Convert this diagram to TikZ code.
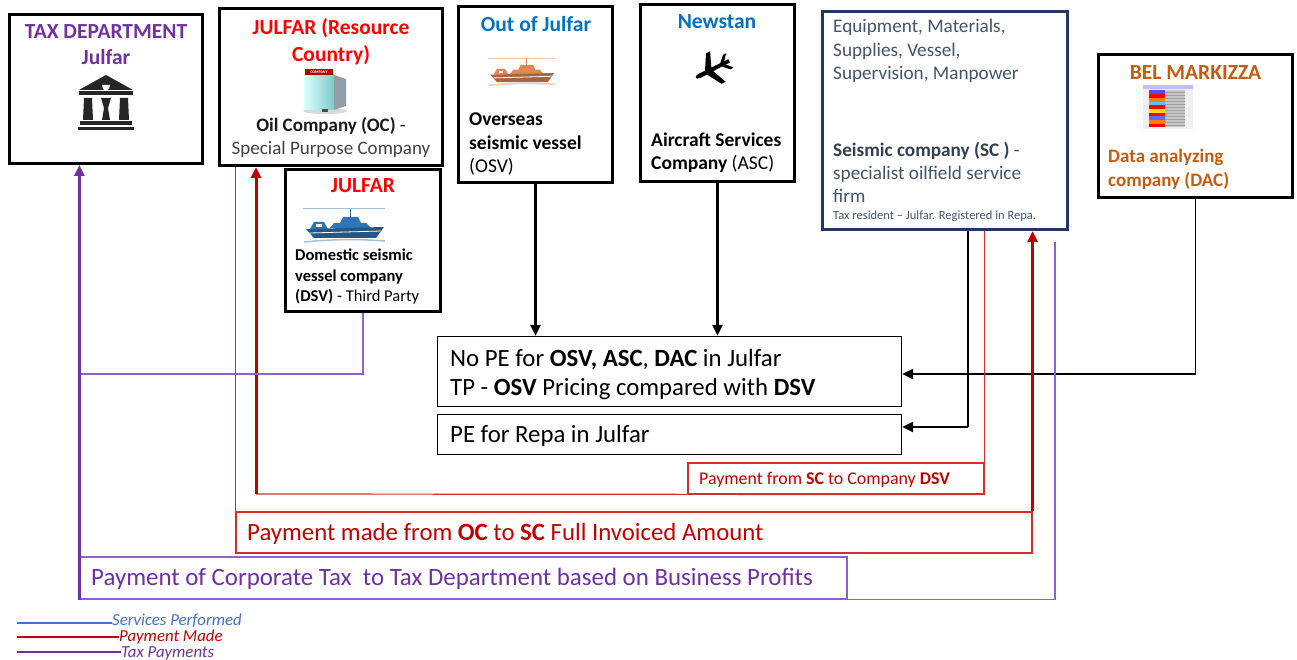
\documentclass[tikz,border=0pt]{standalone}
\usepackage{fontspec}
\setmainfont{Carlito}
\usetikzlibrary{arrows.meta}

\definecolor{taxpurple}{HTML}{7030A0}
\definecolor{linepurple}{HTML}{9260C8}
\definecolor{julred}{HTML}{FF0000}
\definecolor{payred}{HTML}{C00000}
\definecolor{linered}{HTML}{D92B2B}
\definecolor{outblue}{HTML}{0070C0}
\definecolor{scnavy}{HTML}{1F3864}
\definecolor{sctext}{HTML}{44546A}
\definecolor{scbold}{HTML}{333F50}
\definecolor{dacorange}{HTML}{C55A11}
\definecolor{servblue}{HTML}{4472C4}
\definecolor{shipblue}{HTML}{2E75B6}
\definecolor{shiporange}{HTML}{E08850}
\definecolor{icongray}{HTML}{262626}
\definecolor{darktext}{HTML}{1A1A1A}
\definecolor{greytext}{HTML}{404040}

\begin{document}
\begin{tikzpicture}[x=1pt,y=-1pt,>={Triangle[length=11pt,width=10pt]},
        main box/.style={draw,line width=3pt,inner sep=0pt},
        pe box/.style={draw,line width=1.4pt,inner sep=0pt},
        pay box/.style={draw=linered,line width=1.2pt,inner sep=0pt},
        head text/.style={font=\bfseries\fontsize{21.5}{26}\selectfont,inner sep=0pt,align=center,anchor=base},
        body text/.style={font=\fontsize{19.5}{23.5}\selectfont,inner sep=0pt,align=left,anchor=base west},
        big text/.style={font=\fontsize{24.8}{28.5}\selectfont,inner sep=0pt,align=left,anchor=base west},
        key text/.style={font=\itshape\fontsize{16.8}{18}\selectfont,inner sep=0pt,anchor=base west},
        flow/.style={->,line width=2.6pt},
        flow stem/.style={line width=1.5pt},
        pay line/.style={linered,line width=1.2pt},
        pay arrow/.style={->,payred,line width=3pt},
        tax line/.style={linepurple,line width=1.2pt},
        tax arrow/.style={->,taxpurple,line width=3pt},
        pics/ship/.style={code={
            \draw[#1!45,line width=1pt] (-41,-18) -- (41,-18);
            \draw[#1,line width=1pt] (6,-18) -- (6,-10);
            \fill[#1] (-14,1) -- (-10,-4) -- (-4,-4) -- (-1,-10) -- (14,-10) -- (17,-4) -- (22,-4) -- (27,1) -- cycle;
            \fill[#1] (-34,2) -- (-30,-5) -- (-20,-5) -- (-16,2) -- cycle;
            \fill[white] (-28,-3) rectangle (-22,0);
            \fill[#1!75!black] (-38,2) -- (40,0) -- (32,11) -- (-30,11) -- cycle;
            \draw[white,line width=0.8pt] (-34,6) -- (37,4);
            \draw[#1!45,line width=1.5pt] (-40,15) .. controls (-10,12) and (15,12) .. (41,14);
        }},
        pics/temple/.style={code={
            \fill[icongray] (-27,-12) -- (0,-27) -- (27,-12) -- cycle;
            \fill[icongray] (-27,-11) rectangle (27,-7);
            \fill[icongray] (-22,-4) -- (-14,-4) -- (-13,18) -- (-23,18) -- cycle;
            \fill[icongray] (-5,-4) -- (5,-4) -- (2,6) -- (4,18) -- (-4,18) -- (-2,6) -- cycle;
            \fill[icongray] (14,-4) -- (22,-4) -- (23,18) -- (13,18) -- cycle;
            \fill[white] (-4,-17) -- (4,-17) -- (3,-13) -- (0,-11) -- (-3,-13) -- cycle;
            \fill[icongray] (-26,19) rectangle (26,23);
            \fill[icongray] (-28,25) rectangle (28,28);
        }},
        pics/building/.style={code={
            \fill[black!15] (0,21) ellipse [x radius=22, y radius=3];
            \shade[left color=cyan!15!white, right color=cyan!40!gray!70] (-21,-15) rectangle (9,20);
            \fill[cyan!30!black!55] (9,-15) -- (21,-11) -- (21,16) -- (9,20) -- cycle;
            \fill[black!70] (-3,19) rectangle (3,22);
            \fill[red!70!black] (-20,-21) rectangle (8,-15);
            \node[font=\bfseries\fontsize{4}{4}\selectfont,text=white,inner sep=0pt] (sign) at (-6,-18) {COMPANY};
        }},
        pics/plane/.style={code={
            \fill (-20,-2) -- (17,-2.5) .. controls (23,-2) and (23,2) .. (17,2.5) -- (-20,2) -- cycle;
            \fill (1,-2) -- (-6,-19) -- (-1,-19) -- (9,-2) -- cycle;
            \fill (1,2) -- (-6,19) -- (-1,19) -- (9,2) -- cycle;
            \fill (-15,-2) -- (-21,-9) -- (-17,-9) -- (-10,-2) -- cycle;
            \fill (-15,2) -- (-21,9) -- (-17,9) -- (-10,2) -- cycle;
        }},
        pics/seismic/.style={code={
            \fill[gray!12] (-25,-22) rectangle (25,22);
            \fill[blue!25] (-25,-22) rectangle (25,-18);
            \foreach \c [count=\i from 0] in {blue!70,red,orange,cyan!70,red,yellow!90!red,red,blue!60,orange,red}
                \fill[\c] (-19,{-17+3.7*\i}) rectangle (-3,{-13.3+3.7*\i});
            \fill[gray!45] (-3,-17) rectangle (17,20);
            \foreach \y in {-15,-12,...,18}
                \draw[gray!75,line width=0.3pt] (-3,\y) -- (17,\y);
        }}]

        \useasboundingbox (0,0) rectangle (1297,660);

        % Define boxes
        \node[main box,minimum width=193pt,minimum height=149pt] (tax) at (106,89) {};
        \node[main box,minimum width=223pt,minimum height=157pt] (oc) at (331,87) {};
        \node[main box,minimum width=155pt,minimum height=142pt] (dsv) at (363,240.5) {};
        \node[main box,minimum width=154pt,minimum height=176pt] (osv) at (535.5,94.5) {};
        \node[main box,minimum width=154pt,minimum height=177pt] (asc) at (717.5,93) {};
        \node[main box,draw=scnavy,minimum width=245pt,minimum height=218pt] (sc) at (945,120.5) {};
        \node[main box,minimum width=194pt,minimum height=143pt] (dac) at (1195.5,126) {};
        \node[pe box,minimum width=464pt,minimum height=70pt] (pe1) at (669.5,371.5) {};
        \node[pe box,minimum width=464pt,minimum height=40pt] (pe2) at (669.5,434.5) {};
        \node[pay box,minimum width=296pt,minimum height=31pt] (paydsv) at (836,478.5) {};
        \node[pay box,minimum width=796pt,minimum height=41pt] (paysc) at (634,532.5) {};
        \node[pay box,draw=linepurple,minimum width=767pt,minimum height=42pt] (taxpay) at (463.5,578) {};

        % Texts in the boxes
        \node[head text,text=taxpurple] (taxhead) at (106,65) {TAX DEPARTMENT\\Julfar};
        \node[head text,font=\bfseries\fontsize{21.5}{27}\selectfont,text=julred] (ochead) at (331,62) {JULFAR (Resource\\Country)};
        \node[body text,font=\fontsize{19}{23}\selectfont,align=center,anchor=base,text=darktext] (octext) at (331,155)
            {\textbf{Oil Company (OC)} -\\\textcolor{greytext}{Special Purpose Company}};
        \node[head text,text=julred] (dsvhead) at (363,193) {JULFAR};
        \node[body text,font=\fontsize{16.5}{20}\selectfont] (dsvtext) at (295,301)
            {\textbf{Domestic seismic}\\\textbf{vessel company}\\\textbf{(DSV)} - Third Party};
        \node[head text,text=outblue] (osvhead) at (536,32) {Out of Julfar};
        \node[body text] (osvtext) at (469,173) {\textbf{Overseas}\\\textbf{seismic vessel}\\(OSV)};
        \node[head text,text=outblue] (aschead) at (717,29) {Newstan};
        \node[body text] (asctext) at (651,170) {\textbf{Aircraft Services}\\\textbf{Company} (ASC)};
        \node[body text,font=\fontsize{19.2}{23.5}\selectfont,text=sctext] (scgoods) at (833,80)
            {Equipment, Materials,\\Supplies, Vessel,\\Supervision, Manpower};
        \node[body text,font=\fontsize{19.2}{23}\selectfont,text=sctext] (sctext) at (833,203)
            {\textbf{\textcolor{scbold}{Seismic company (SC )}} -\\specialist oilfield service\\firm};
        \node[body text,font=\fontsize{12.5}{14}\selectfont,text=sctext] (scnote) at (833,220) {Tax resident – Julfar. Registered in Repa.};
        \node[head text,text=dacorange] (dachead) at (1195.5,80) {BEL MARKIZZA};
        \node[body text,font=\bfseries\fontsize{19}{24}\selectfont,text=dacorange] (dactext) at (1108,187) {Data analyzing\\company (DAC)};
        \node[big text] (pe1text) at (450,395) {No PE for \textbf{OSV, ASC}, \textbf{DAC} in Julfar\\TP - \textbf{OSV} Pricing compared with \textbf{DSV}};
        \node[big text] (pe2text) at (450,442) {PE for Repa in Julfar};
        \node[body text,font=\fontsize{17.9}{20}\selectfont,text=payred] (paydsvtext) at (699,484) {Payment from \textbf{SC} to Company \textbf{DSV}};
        \node[big text,font=\fontsize{24.8}{28}\selectfont,text=payred] (paysctext) at (247,540) {Payment made from \textbf{OC} to \textbf{SC} Full Invoiced Amount};
        \node[big text,font=\fontsize{24.9}{28}\selectfont,text=taxpurple] (taxpaytext) at (91,585.5) {Payment of Corporate Tax~ to Tax Department based on Business Profits};

        % Icons
        \pic at (106,102) {temple};
        \pic at (325,90) {building};
        \pic at (344,227) {ship=shipblue};
        \pic[scale=0.82] at (521.5,73) {ship=shiporange};
        \pic[rotate=207,scale=0.9] at (713,69) {plane};
        \pic at (1168,107.5) {seismic};

        % Draw connectors
        \coordinate (dacturn) at (1195.5,374);
        \coordinate (scturn) at (968,427);
        \coordinate (dsvturn) at (256,494);
        \coordinate (sctax) at (1055,242);
        \coordinate (dsvtax) at (80,374);

        \draw[flow] (osv) -- (osv |- pe1.north);
        \draw[flow] (asc) -- (asc |- pe1.north);
        \draw[flow stem] (dac) -- (dacturn);
        \draw[flow] (dacturn) -- (dacturn -| pe1.east);
        \draw[flow stem] (scturn |- sc.south) -- (scturn);
        \draw[flow] (scturn) -- (scturn -| pe2.east);

        \draw[pay line] (paydsv.south east |- sc.south) -- (paydsv.south east) -- (dsvturn);
        \draw[pay arrow] (dsvturn) -- (dsvturn |- oc.south);
        \draw[pay line] (paysc.north west |- oc.south) -- (paysc.north west);
        \draw[pay arrow] (paysc.north east) -- (paysc.north east |- sc.south);

        \draw[tax line] (sctax) |- (taxpay.south west);
        \draw[tax line] (dsv) |- (dsvtax);
        \draw[tax arrow] (taxpay.south west) -- (taxpay.south west |- tax.south);

        % Legend
        \coordinate (servkey) at (17,623);
        \coordinate (paykey) at (17,637);
        \coordinate (taxkey) at (17,652);
        \node[key text,text=servblue] (servtext) at (112,625) {Services Performed};
        \node[key text,text=payred] (paytext) at (119,641) {Payment Made};
        \node[key text,text=taxpurple] (taxtext) at (121,657) {Tax Payments};
        \draw[servblue,line width=1.6pt] (servkey) -- (servkey -| servtext.west);
        \draw[payred,line width=1.8pt] (paykey) -- (paykey -| paytext.west);
        \draw[taxpurple,line width=1.6pt] (taxkey) -- (taxkey -| taxtext.west);

\end{tikzpicture}
\end{document}
